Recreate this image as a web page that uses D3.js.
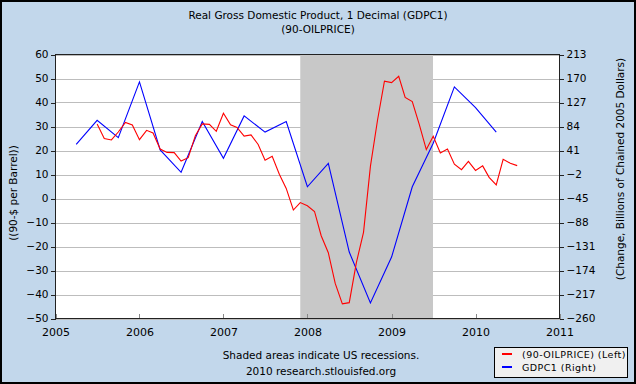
<!DOCTYPE html>
<html>
<head>
<meta charset="utf-8">
<script src="https://cdn.jsdelivr.net/npm/d3@7"></script>
<style>
  html, body { margin: 0; padding: 0; background: #fff; }
  svg { display: block; }
  text { font-family: "DejaVu Sans", Verdana, sans-serif; fill: #000; }
</style>
</head>
<body>
<svg id="chart" width="636" height="384"></svg>
<script>
// ---------- DATA ----------
const titleLines = ["Real Gross Domestic Product, 1 Decimal (GDPC1)", "(90-OILPRICE)"];
const leftAxisTitle = "((90-$ per Barrel))";
const rightAxisTitle = "(Change, Billions of Chained 2005 Dollars)";
const footerLines = ["Shaded areas indicate US recessions.", "2010 research.stlouisfed.org"];
const legendLabels = ["(90-OILPRICE) (Left)", "GDPC1 (Right)"];

const leftTicks = [60, 50, 40, 30, 20, 10, 0, -10, -20, -30, -40, -50];
const rightTicks = [213, 170, 127, 84, 41, -2, -45, -88, -131, -174, -217, -260];
const xTickYears = [2005, 2006, 2007, 2008, 2009, 2010, 2011];

const recessions = [["2007-12-01", "2009-06-30"]];

const oilDates = [
  "2005-07","2005-08","2005-09","2005-10","2005-11","2005-12",
  "2006-01","2006-02","2006-03","2006-04","2006-05","2006-06","2006-07","2006-08","2006-09","2006-10","2006-11","2006-12",
  "2007-01","2007-02","2007-03","2007-04","2007-05","2007-06","2007-07","2007-08","2007-09","2007-10","2007-11","2007-12",
  "2008-01","2008-02","2008-03","2008-04","2008-05","2008-06","2008-07","2008-08","2008-09","2008-10","2008-11","2008-12",
  "2009-01","2009-02","2009-03","2009-04","2009-05","2009-06","2009-07","2009-08","2009-09","2009-10","2009-11","2009-12",
  "2010-01","2010-02","2010-03","2010-04","2010-05","2010-06","2010-07"
];
const oilValues = [
  31.0, 25.0, 24.4, 27.7, 31.7, 30.6,
  24.5, 28.4, 27.3, 20.6, 19.2, 19.1, 15.6, 17.0, 26.2, 31.1, 30.9, 28.0,
  35.5, 30.7, 29.6, 26.0, 26.5, 22.5, 15.9, 17.6, 10.1, 4.2, -4.8, -1.7,
  -3.0, -5.4, -15.5, -22.6, -35.4, -43.9, -43.4, -26.7, -14.1, 13.4, 32.7, 48.9,
  48.3, 50.9, 42.1, 40.4, 31.0, 20.4, 25.9, 19.0, 20.6, 14.3, 12.0, 15.5,
  11.7, 13.6, 8.8, 5.7, 16.3, 14.7, 13.7
];

const gdpDates = [
  "2005-04","2005-07","2005-10",
  "2006-01","2006-04","2006-07","2006-10",
  "2007-01","2007-04","2007-07","2007-10",
  "2008-01","2008-04","2008-07","2008-10",
  "2009-01","2009-04","2009-07","2009-10",
  "2010-01","2010-04"
];
const gdpValues = [
  52, 95, 64,
  164, 42, 2, 93,
  27, 103, 74, 93,
  -24, 18, -141, -232,
  -150, -24, 54, 155,
  118, 74
];

// ---------- LAYOUT ----------
const W = 636, H = 384;
const plot = { x0: 55.5, x1: 559.5, y0: 54.5, y1: 318.5 };
const colors = {
  bg: "#c2d7eb", plotBg: "#ffffff", grid: "#bdbdbd", shade: "#c8c8c8",
  red: "#ff0000", blue: "#0000ff", legendBg: "#f0f0f0"
};

const parseM = d3.timeParse("%Y-%m");
const parseD = d3.timeParse("%Y-%m-%d");

const svg = d3.select("#chart");

const x = d3.scaleTime()
  .domain([new Date(2005, 0, 1), new Date(2011, 0, 1)])
  .range([plot.x0, plot.x1]);
const yL = d3.scaleLinear().domain([-50, 60]).range([plot.y1, plot.y0]);
const yR = d3.scaleLinear().domain([-260, 213]).range([plot.y1, plot.y0]);

// background + outer border
svg.append("rect").attr("x", 0).attr("y", 0).attr("width", W).attr("height", H)
  .attr("fill", colors.bg);
svg.append("rect").attr("x", 1).attr("y", 1).attr("width", W - 2).attr("height", H - 2)
  .attr("fill", "none").attr("stroke", "#000").attr("stroke-width", 2);

// title
svg.selectAll("text.title").data(titleLines).join("text")
  .attr("class", "title")
  .attr("x", 318).attr("y", (d, i) => 19 + i * 14)
  .attr("text-anchor", "middle")
  .style("font-size", "10.5px")
  .text(d => d);

// plot background
svg.append("rect")
  .attr("x", plot.x0).attr("y", plot.y0)
  .attr("width", plot.x1 - plot.x0).attr("height", plot.y1 - plot.y0)
  .attr("fill", colors.plotBg);

// grid lines
svg.append("g").selectAll("line").data(leftTicks).join("line")
  .attr("x1", plot.x0).attr("x2", plot.x1)
  .attr("y1", d => Math.round(yL(d)) + 0.5).attr("y2", d => Math.round(yL(d)) + 0.5)
  .attr("stroke", colors.grid).attr("stroke-width", 1)
  .attr("shape-rendering", "crispEdges");

// recession shading
svg.append("g").selectAll("rect").data(recessions).join("rect")
  .attr("x", d => x(parseD(d[0])))
  .attr("width", d => x(parseD(d[1])) - x(parseD(d[0])))
  .attr("y", plot.y0).attr("height", plot.y1 - plot.y0)
  .attr("fill", colors.shade);

// inner x ticks
svg.append("g").selectAll("line").data(xTickYears).join("line")
  .attr("x1", d => Math.round(x(new Date(d, 0, 1))) + 0.5)
  .attr("x2", d => Math.round(x(new Date(d, 0, 1))) + 0.5)
  .attr("y1", plot.y1).attr("y2", plot.y1 - 5)
  .attr("stroke", "#888").attr("shape-rendering", "crispEdges");

// series lines
const oilData = oilDates.map((d, i) => ({ date: parseM(d), value: oilValues[i] }));
const gdpData = gdpDates.map((d, i) => ({ date: parseM(d), value: gdpValues[i] }));

svg.append("path").datum(gdpData)
  .attr("fill", "none").attr("stroke", colors.blue).attr("stroke-width", 1.1)
  .attr("d", d3.line().x(d => x(d.date)).y(d => yR(d.value)));

svg.append("path").datum(oilData)
  .attr("fill", "none").attr("stroke", colors.red).attr("stroke-width", 1.1)
  .attr("d", d3.line().x(d => x(d.date)).y(d => yL(d.value)));

// plot border
svg.append("rect")
  .attr("x", plot.x0).attr("y", plot.y0)
  .attr("width", plot.x1 - plot.x0).attr("height", plot.y1 - plot.y0)
  .attr("fill", "none").attr("stroke", "#222").attr("stroke-width", 1)
  .attr("shape-rendering", "crispEdges");

// left axis
const gL = svg.append("g").attr("transform", `translate(${plot.x0},0)`)
  .call(d3.axisLeft(yL).tickValues(leftTicks).tickSize(5).tickPadding(2).tickFormat(d3.format("d")));
gL.select(".domain").remove();
gL.selectAll("text").style("font-size", "10.5px").style("font-family", "'DejaVu Sans', Verdana, sans-serif");
gL.selectAll("line").attr("stroke", "#222").attr("shape-rendering", "crispEdges");

// right axis
const gR = svg.append("g").attr("transform", `translate(${plot.x1},0)`)
  .call(d3.axisRight(yR).tickValues(rightTicks).tickSize(4).tickPadding(3).tickFormat(d3.format("d")));
gR.select(".domain").remove();
gR.selectAll("text").style("font-size", "10.5px").style("font-family", "'DejaVu Sans', Verdana, sans-serif");
gR.selectAll("line").attr("stroke", "#222").attr("shape-rendering", "crispEdges");

// bottom axis labels
const gB = svg.append("g").attr("transform", `translate(0,${plot.y1})`)
  .call(d3.axisBottom(x).tickValues(xTickYears.map(y => new Date(y, 0, 1)))
    .tickSize(0).tickPadding(10).tickFormat(d3.timeFormat("%Y")));
gB.select(".domain").remove();
gB.selectAll("line").remove();
gB.selectAll("text").style("font-size", "11px").style("font-family", "'DejaVu Sans', Verdana, sans-serif");

// axis titles
svg.append("text")
  .attr("transform", "translate(17,193) rotate(-90)")
  .attr("text-anchor", "middle")
  .style("font-size", "10.5px")
  .text(leftAxisTitle);
svg.append("text")
  .attr("transform", "translate(624,169) rotate(-90)")
  .attr("text-anchor", "middle")
  .style("font-size", "10.5px")
  .text(rightAxisTitle);

// footer
svg.selectAll("text.footer").data(footerLines).join("text")
  .attr("class", "footer")
  .attr("x", 321).attr("y", (d, i) => 359 + i * 16)
  .attr("text-anchor", "middle")
  .style("font-size", "10.5px")
  .text(d => d);

// legend
const lg = svg.append("g");
lg.append("rect").attr("x", 494.5).attr("y", 347.5).attr("width", 133).attr("height", 30)
  .attr("fill", colors.legendBg).attr("stroke", "#000").attr("stroke-width", 1)
  .attr("shape-rendering", "crispEdges");
const legendColors = [colors.red, colors.blue];
legendLabels.forEach((lab, i) => {
  const yy = 354 + i * 13;
  lg.append("line").attr("x1", 502).attr("x2", 512).attr("y1", yy).attr("y2", yy)
    .attr("stroke", legendColors[i]).attr("stroke-width", 2);
  lg.append("text").attr("x", 522).attr("y", yy + 3.5)
    .style("font-size", "9.5px").style("letter-spacing", "0.45px").text(lab);
});
</script>
</body>
</html>
